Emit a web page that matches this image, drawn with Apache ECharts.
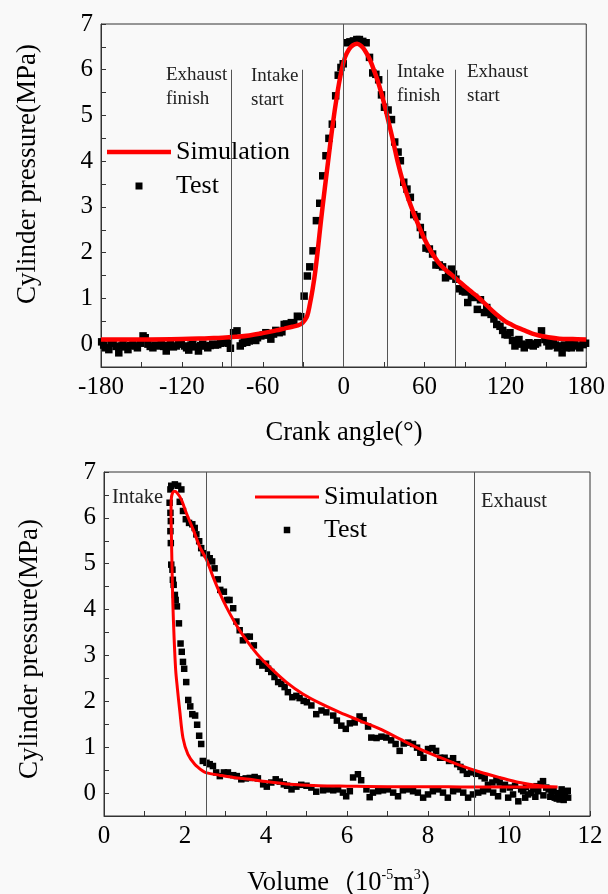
<!DOCTYPE html>
<html>
<head>
<meta charset="utf-8">
<script src="https://cdn.jsdelivr.net/npm/echarts@6/dist/echarts.min.js"></script>
<style>
  html, body { margin: 0; padding: 0; background: #f9f9f9; }
  #chart { width: 608px; height: 894px; }
</style>
</head>
<body>
<div id="chart"></div>
<script>
// ---- Cylinder pressure vs crank angle ----
const simAngle = [-180,-150,-120,-100,-90,-80,-70,-60,-50,-44,-38,-34,-31,-29,-27,-25,-23,-21,-19,-17,
  -14,-11,-8,-5,-2,1,4,7,10,13,16,19,22,25,28,31,34,37,40,44,48,52,56,60,65,70,75,80,85,90,
  95,100,105,110,115,120,125,130,135,140,145,150,160,170,180];
const simPressure = [0.10,0.10,0.11,0.13,0.14,0.16,0.19,0.24,0.30,0.34,0.38,0.41,0.45,0.52,0.62,0.88,1.2,1.6,2.1,2.65,
  3.4,4.12,4.82,5.42,5.92,6.27,6.45,6.54,6.57,6.52,6.41,6.25,6.03,5.78,5.49,5.15,4.78,4.40,4.0,3.55,3.18,2.86,2.57,2.30,2.02,1.80,1.64,1.52,1.39,1.26,
  1.14,1.02,0.88,0.74,0.61,0.50,0.42,0.35,0.29,0.23,0.19,0.16,0.12,0.11,0.10];

const testAngle = [-179.5,-178.0,-176.5,-174.2,-172.5,-171.0,-168.8,-166.8,-165.0,-163.6,-161.8,-160.0,-158.0,-156.3,-154.5,-153.0,
  -150.5,-148.8,-147.2,-145.2,-143.5,-141.5,-139.8,-137.8,-135.3,-133.5,-131.6,-130.0,-128.4,-126.3,-124.2,-122.3,
  -120.5,-118.0,-116.5,-114.9,-113.2,-111.9,-109.8,-107.7,-106.0,-104.5,-102.5,-100.8,-98.9,-97.1,-95.2,-93.4,
  -91.5,-89.7,-87.2,-85.5,-84.0,-81.6,-79.1,-76.7,-75.0,-73.7,-71.8,-70.0,-68.3,-66.8,-65.2,-63.9,
  -61.4,-59.5,-57.7,-55.8,-54.0,-52.0,-50.3,-47.8,-45.8,-44.1,-42.4,-40.4,-38.8,-37.0,-34.3,-31.8,
  -29.3,-26.9,-25.1,-22.7,-20.2,-17.7,-15.5,-13.1,-10.9,-8.4,-5.9,-4.0,-2.0,-0.3,
  2.7,4.7,7.3,9.8,11.7,14.2,16.7,19.2,21.6,23.9,26.0,28.1,30.3,33.0,35.5,37.9,40.4,42.1,44.6,47.0,49.5,
  52.0,54.4,56.9,58.6,61.1,63.6,66.0,68.5,71.0,73.4,75.6,77.8,80.0,81.5,83.3,85.5,88.2,90.2,92.1,94.8,97.1,99.2,
  101.5,104.5,106.2,109.4,111.5,113.6,116.0,118.0,119.7,121.5,123.4,125.3,127.1,128.6,130.1,132.0,134.0,135.8,
  137.5,139.2,140.7,142.3,143.9,146.8,149.3,150.8,152.3,154.0,155.5,157.2,158.7,160.5,162.1,163.8,165.3,167.2,
  169.0,171.5,173.3,175.2,177.6,179.5];
const testPressure = [0.05,-0.02,-0.08,-0.12,0.02,0.03,-0.05,-0.19,-0.04,0.00,-0.06,-0.12,-0.03,0.00,-0.04,-0.08,
  0.02,0.18,0.14,0.00,-0.05,-0.08,-0.02,-0.04,0.00,-0.05,-0.15,-0.03,0.00,-0.06,-0.04,0.00,
  0.01,-0.04,-0.08,-0.13,-0.02,0.00,-0.06,-0.15,-0.03,0.00,-0.04,-0.08,-0.03,0.00,-0.02,-0.01,
  0.02,0.03,0.07,0.02,-0.09,0.25,0.29,-0.04,0.02,0.07,0.04,0.07,0.12,0.14,0.08,0.14,
  0.18,0.20,0.25,0.20,0.11,0.22,0.30,0.25,0.27,0.43,0.44,0.43,0.47,0.46,0.61,0.60,
  1.05,1.49,1.69,2.04,2.70,3.08,3.68,4.12,4.50,4.81,5.43,5.88,6.05,6.13,
  6.59,6.61,6.63,6.66,6.66,6.62,6.59,6.27,5.93,5.90,5.78,5.45,5.18,5.12,4.91,4.42,4.20,4.01,3.54,3.39,3.21,
  2.83,2.79,2.55,2.39,2.10,2.08,1.97,1.73,1.73,1.69,1.45,1.49,1.64,1.53,1.42,1.21,1.16,1.14,0.91,1.04,1.02,0.76,
  0.97,0.69,0.80,0.65,0.55,0.43,0.39,0.30,0.21,0.20,0.25,0.08,-0.04,0.02,0.10,0.00,-0.08,-0.02,
  0.03,0.00,-0.04,0.00,0.03,0.29,0.10,0.05,-0.04,0.00,0.03,-0.02,-0.08,-0.04,-0.19,-0.02,-0.08,0.00,
  -0.08,0.03,-0.04,-0.08,-0.01,0.02];

// valve events (deg) and the height the marker line reaches (MPa)
const strokeEvents = [-83, -31, 0, 32, 83];
const strokeEventTop = [6, 6, 7, 6, 6];

// ---- Cylinder pressure vs volume (p-V loop) ----
const simVolume = [11.2,10.0,9.0,8.0,7.0,6.0,5.3,4.5,4.0,3.6,3.2,2.85,2.53,2.44,2.24,2.07,1.95,1.87,1.81,1.77,
  1.73,1.70,1.68,1.665,1.655,1.66,1.69,1.74,1.80,1.91,2.03,2.20,2.36,2.53,2.69,2.86,3.02,3.27,3.52,3.84,
  4.17,4.50,4.91,5.33,5.82,6.31,6.81,7.30,7.80,8.29,8.78,9.28,9.77,10.26,10.76,11.2];
const simLoopPressure = [0.13,0.13,0.13,0.14,0.14,0.15,0.16,0.20,0.25,0.30,0.34,0.39,0.44,0.48,0.63,0.85,1.2,1.8,2.3,2.68,
  3.4,4.14,4.9,5.6,6.1,6.4,6.54,6.58,6.55,6.40,6.11,5.75,5.38,5.09,4.72,4.36,4.06,3.66,3.33,2.97,
  2.68,2.42,2.16,1.96,1.76,1.58,1.40,1.18,0.96,0.78,0.61,0.46,0.34,0.23,0.16,0.13];

const testVolume = [1.66,1.75,1.83,1.91,1.64,1.62,1.64,1.65,1.64,1.65,1.66,1.69,1.70,1.72,1.75,1.77,1.80,1.85,1.89,1.92,
  1.95,1.98,2.03,2.08,2.13,2.18,2.25,2.30,2.35,2.40,2.44,2.53,2.61,2.69,2.77,2.86,2.96,3.06,3.19,3.28,
  3.39,3.50,3.60,3.72,3.80,3.93,4.02,4.13,4.24,4.34,4.44,4.52,4.63,4.75,4.87,5.00,5.12,5.24,
  5.41,5.53,5.66,5.78,5.90,5.98,6.07,6.15,6.27,6.35,6.48,6.56,6.64,6.77,6.89,7.01,7.14,7.26,7.38,7.51,
  7.63,7.75,7.88,8.00,8.12,8.25,8.37,8.49,8.62,8.74,8.87,8.99,9.11,9.24,9.36,9.48,9.61,9.73,9.85,9.98,
  10.10,10.23,10.35,10.47,10.60,10.72,10.84,10.92,11.05,11.13,11.25,11.34,11.42,11.46,
  1.87,1.95,2.02,2.10,2.18,2.24,2.28,2.35,2.40,2.46,2.54,2.61,2.67,2.73,2.81,2.87,2.96,3.04,3.10,3.19,
  3.27,3.35,3.43,3.52,3.60,3.70,3.83,3.91,4.00,4.05,4.13,4.21,4.30,4.38,4.46,4.54,4.65,4.75,4.83,4.93,
  5.01,5.12,5.24,5.37,5.49,5.66,5.75,5.86,5.97,6.07,6.19,6.31,6.41,6.52,6.60,6.73,6.85,6.97,7.09,7.20,
  7.30,7.40,7.51,7.63,7.73,7.81,7.89,8.00,8.11,8.20,8.30,8.41,8.52,8.62,8.72,8.80,8.86,8.96,9.07,9.19,
  9.32,9.40,9.48,9.59,9.69,9.77,9.90,10.02,10.15,10.30,10.42,10.55,10.68,10.78,10.98,11.10,11.20,11.30,
  11.38,11.45,11.35,11.18,11.02,10.85,10.65,10.40];
const testLoopPressure = [6.70,6.73,6.70,6.62,6.62,6.33,6.11,5.93,5.71,5.45,4.98,4.87,4.65,4.54,4.32,4.21,4.07,3.70,3.26,3.08,
  2.86,2.71,2.42,2.03,1.89,1.72,1.69,1.49,1.25,1.07,0.70,0.66,0.63,0.59,0.45,0.37,0.45,0.45,0.39,0.37,
  0.30,0.32,0.33,0.35,0.32,0.19,0.14,0.23,0.30,0.25,0.19,0.16,0.08,0.14,0.18,0.16,0.12,0.03,
  0.06,0.08,0.06,0.08,0.01,-0.07,0.04,0.34,0.41,0.28,0.08,-0.09,0.01,0.04,0.06,0.08,0.01,-0.07,0.06,0.08,
  0.04,0.01,-0.10,-0.03,0.04,0.08,0.01,-0.10,0.04,0.08,0.01,-0.10,-0.03,0.01,0.04,0.08,0.01,-0.07,0.08,-0.10,
  -0.03,-0.18,0.04,-0.03,0.08,0.04,0.26,0.12,0.01,-0.10,-0.14,-0.03,0.04,-0.10,
  6.35,6.15,5.97,5.89,5.86,5.78,5.64,5.49,5.34,5.23,5.20,5.12,5.05,4.90,4.66,4.43,4.39,4.21,4.21,4.03,
  3.74,3.55,3.33,3.41,3.41,3.22,2.86,2.78,2.82,2.71,2.64,2.53,2.42,2.38,2.31,2.20,2.09,2.12,2.07,2.01,
  1.98,1.91,1.72,1.80,1.76,1.69,1.58,1.47,1.40,1.52,1.54,1.67,1.59,1.45,1.21,1.20,1.23,1.21,1.15,1.07,
  0.92,1.08,1.10,1.07,0.99,0.88,0.77,0.96,0.98,0.92,0.77,0.77,0.70,0.76,0.63,0.57,0.50,0.42,0.45,0.42,
  0.37,0.32,0.18,0.23,0.28,0.23,0.18,0.12,0.16,0.08,0.13,0.00,0.15,0.20,0.08,0.05,0.00,0.08,
  -0.06,0.05,-0.15,-0.12,-0.08,-0.05,-0.08,-0.10];

// stroke boundaries on the volume axis
const loopEvents = [2.53, 9.13];

const SERIF = "'Liberation Serif', 'Times New Roman', serif";
const zip = (a, b) => a.map((v, i) => [v, b[i]]);

function valueAxis(gridIndex, min, max, interval, showLabel) {
  return {
    type: 'value', gridIndex, min, max, interval,
    axisLine: { show: true, onZero: false, lineStyle: { color: '#333', width: 1 } },
    axisTick: { show: true, inside: true, length: 5, lineStyle: { color: '#333' } },
    axisLabel: {
      formatter: v => (showLabel(v) ? String(v) : ''),
      fontSize: 25, fontFamily: SERIF, color: '#000', margin: 8
    },
    splitLine: { show: false }
  };
}

const eventLineStyle = { color: '#555', width: 1, type: 'solid' };
const legendText = { fontSize: 26, fontFamily: SERIF, color: '#000' };
const SQUARE = 'path://M0,0L1,0L1,1L0,1Z';

const chart = echarts.init(document.getElementById('chart'), null, { renderer: 'canvas' });
chart.setOption({
  backgroundColor: '#f9f9f9',
  animation: false,
  grid: [
    { left: 101, top: 24, width: 487, height: 343, show: true, borderColor: '#333', borderWidth: 1, backgroundColor: 'transparent' },
    { left: 104, top: 472, width: 486, height: 344, show: true, borderColor: '#333', borderWidth: 1, backgroundColor: 'transparent' }
  ],
  xAxis: [
    valueAxis(0, -180, 180, 30, v => v % 60 === 0),
    valueAxis(1, 0, 12, 1, v => v % 2 === 0)
  ],
  yAxis: [
    valueAxis(0, -0.5, 7, 0.5, v => Number.isInteger(v)),
    valueAxis(1, -0.5, 7, 0.5, v => Number.isInteger(v))
  ],
  legend: [
    { data: [{ name: 'Simulation', icon: 'rect' }], left: 107, top: 139, padding: 0,
      itemWidth: 64, itemHeight: 4.5, symbolKeepAspect: false, selectedMode: false,
      itemStyle: { borderWidth: 0 }, textStyle: legendText },
    { data: [{ name: 'Test', icon: SQUARE }], left: 135.5, top: 173, padding: 0,
      itemWidth: 64, itemHeight: 7, symbolKeepAspect: true, selectedMode: false,
      itemStyle: { borderWidth: 0, opacity: 1 }, textStyle: legendText },
    { data: [{ name: 'Simulation', icon: 'rect' }], left: 255, top: 484, padding: 0,
      itemWidth: 64, itemHeight: 3, symbolKeepAspect: false, selectedMode: false,
      itemStyle: { borderWidth: 0 }, textStyle: legendText },
    { data: [{ name: 'Test', icon: SQUARE }], left: 283.75, top: 517, padding: 0,
      itemWidth: 64, itemHeight: 6.5, symbolKeepAspect: true, selectedMode: false,
      itemStyle: { borderWidth: 0, opacity: 1 }, textStyle: legendText }
  ],
  series: [
    {
      name: 'Simulation', type: 'line', xAxisIndex: 0, yAxisIndex: 0,
      data: zip(simAngle, simPressure),
      smooth: 0.4, showSymbol: false, symbol: 'none', color: '#ff0000',
      lineStyle: { color: '#ff0000', width: 4.5 },
      markLine: {
        silent: true, symbol: ['none', 'none'], label: { show: false },
        lineStyle: eventLineStyle,
        data: strokeEvents.map((a, i) => [{ coord: [a, -0.5] }, { coord: [a, strokeEventTop[i]] }])
      }
    },
    {
      name: 'Test', type: 'scatter', xAxisIndex: 0, yAxisIndex: 0,
      data: zip(testAngle, testPressure),
      symbol: 'rect', symbolSize: 7.5, color: '#000', itemStyle: { color: '#000', opacity: 1 }
    },
    {
      name: 'Simulation', type: 'line', xAxisIndex: 1, yAxisIndex: 1,
      data: zip(simVolume, simLoopPressure),
      smooth: 0.3, showSymbol: false, symbol: 'none', color: '#ff0000',
      lineStyle: { color: '#ff0000', width: 3 },
      markLine: {
        silent: true, symbol: ['none', 'none'], label: { show: false },
        lineStyle: eventLineStyle,
        data: loopEvents.map(v => [{ coord: [v, -0.5] }, { coord: [v, 7] }])
      }
    },
    {
      name: 'Test', type: 'scatter', xAxisIndex: 1, yAxisIndex: 1,
      data: zip(testVolume, testLoopPressure),
      symbol: 'rect', symbolSize: 6.5, color: '#000', itemStyle: { color: '#000', opacity: 1 }
    }
  ],
  graphic: [
    // axis titles
    { type: 'text', x: 28, y: 174, rotation: Math.PI / 2,
      style: { text: 'Cylinder pressure(MPa)', fontSize: 27, fontFamily: SERIF, fill: '#000', align: 'center', verticalAlign: 'middle' } },
    { type: 'text', x: 344, y: 433,
      style: { text: 'Crank angle(°)', fontSize: 26.5, fontFamily: SERIF, fill: '#000', align: 'center', verticalAlign: 'middle' } },
    { type: 'text', x: 30, y: 649, rotation: Math.PI / 2,
      style: { text: 'Cylinder pressure(MPa)', fontSize: 27, fontFamily: SERIF, fill: '#000', align: 'center', verticalAlign: 'middle' } },
    { type: 'text', x: 347, y: 883,
      style: {
        text: '{t|Volume}{p|（}{t|10}{s|-5}{t|m}{s|3}{p|）}',
        align: 'center', verticalAlign: 'middle',
        rich: {
          t: { fontSize: 26.5, fontFamily: SERIF, fill: '#000', lineHeight: 30 },
          p: { fontSize: 26, fontFamily: "'Noto Sans CJK SC', sans-serif", fill: '#000', lineHeight: 30 },
          s: { fontSize: 14, fontFamily: SERIF, fill: '#000', verticalAlign: 'top', lineHeight: 14 }
        }
      } },
    // stroke phase notes
    { type: 'text', x: 166, y: 63, style: { text: 'Exhaust\nfinish', fontSize: 19, lineHeight: 24, fontFamily: SERIF, fill: '#222', align: 'left', verticalAlign: 'top' } },
    { type: 'text', x: 251, y: 64, style: { text: 'Intake\nstart', fontSize: 19, lineHeight: 24, fontFamily: SERIF, fill: '#222', align: 'left', verticalAlign: 'top' } },
    { type: 'text', x: 397, y: 60, style: { text: 'Intake\nfinish', fontSize: 19, lineHeight: 24, fontFamily: SERIF, fill: '#222', align: 'left', verticalAlign: 'top' } },
    { type: 'text', x: 467, y: 60, style: { text: 'Exhaust\nstart', fontSize: 19, lineHeight: 24, fontFamily: SERIF, fill: '#222', align: 'left', verticalAlign: 'top' } },
    { type: 'text', x: 112, y: 498, style: { text: 'Intake', fontSize: 20.5, fontFamily: SERIF, fill: '#222', align: 'left', verticalAlign: 'middle' } },
    { type: 'text', x: 481, y: 502, style: { text: 'Exhaust', fontSize: 20.5, fontFamily: SERIF, fill: '#222', align: 'left', verticalAlign: 'middle' } }
  ]
});
</script>
</body>
</html>
